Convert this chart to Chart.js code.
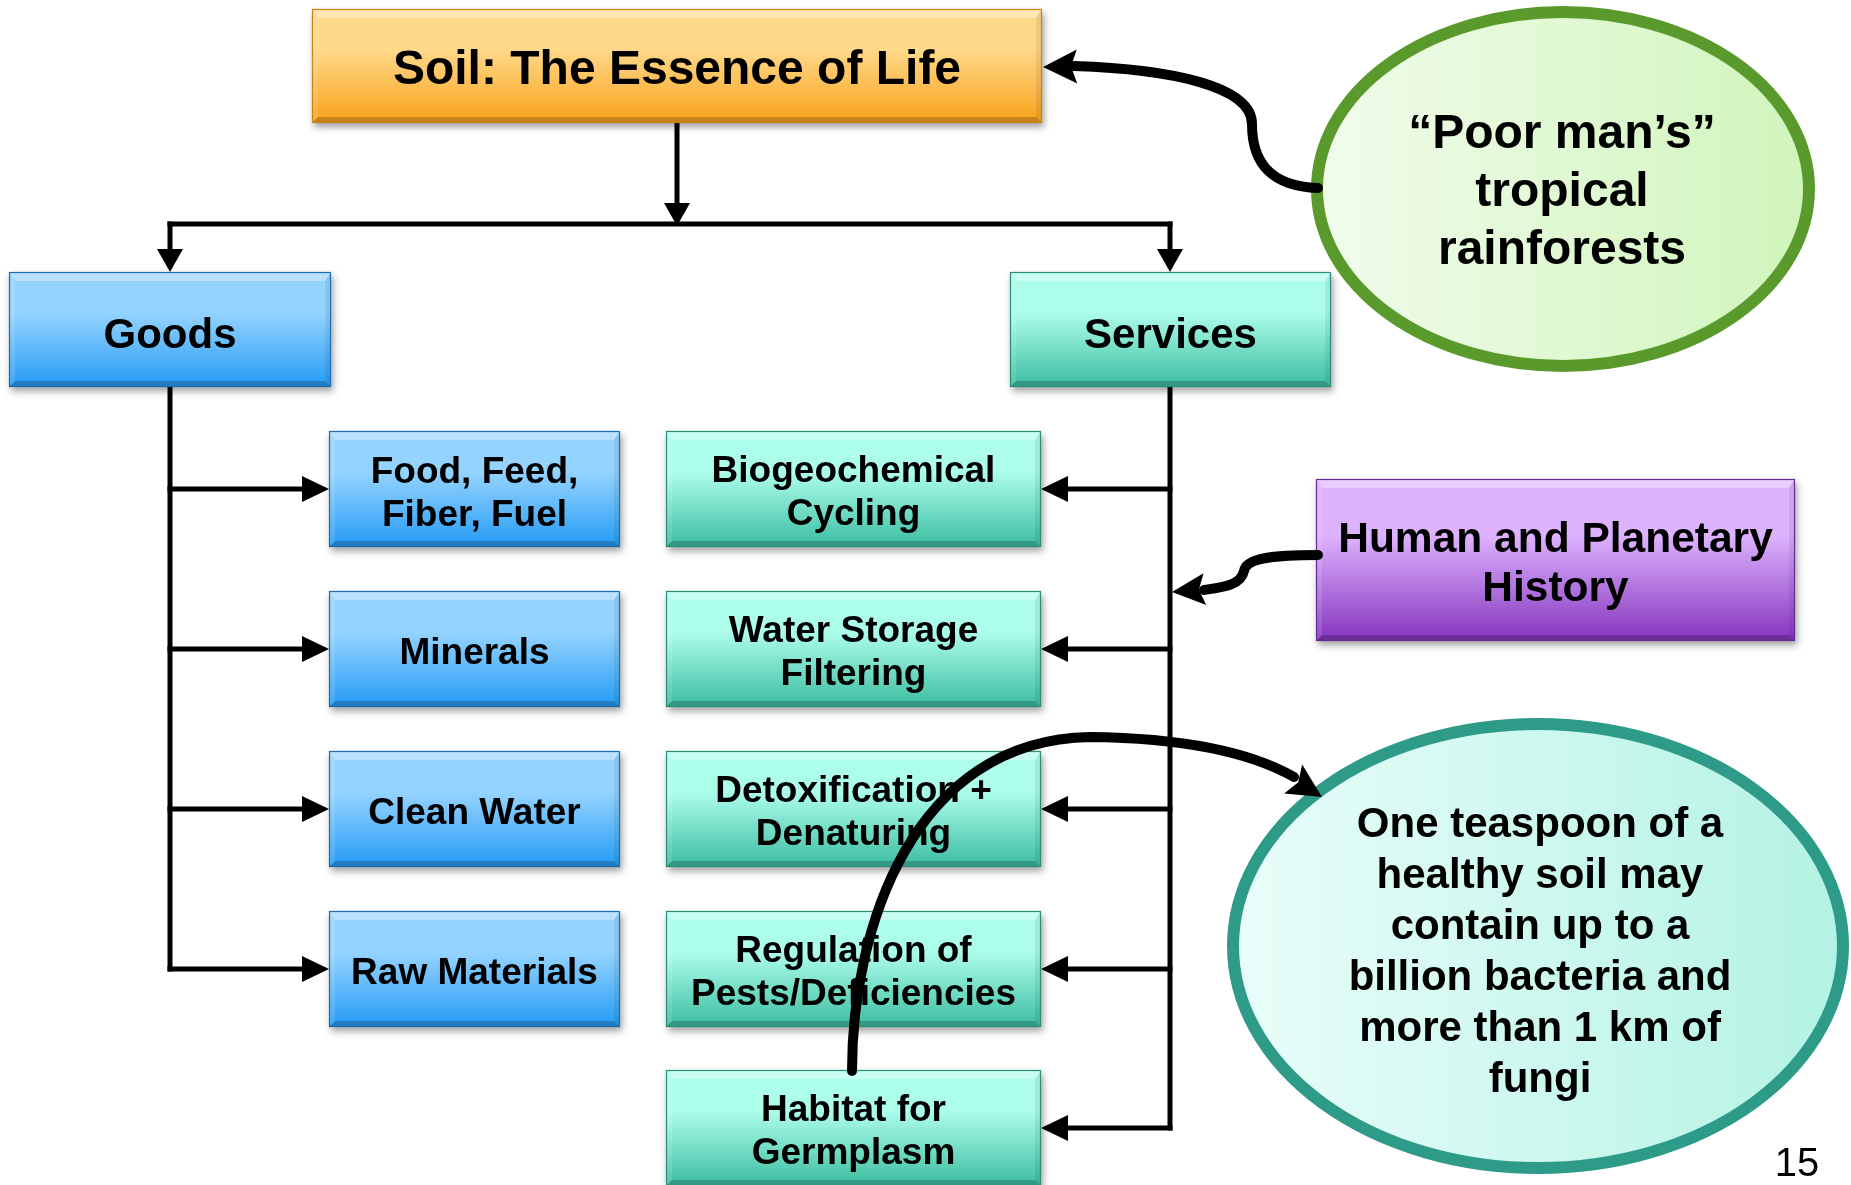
<!DOCTYPE html>
<html>
<head>
<meta charset="utf-8">
<script src="https://cdn.jsdelivr.net/npm/chart.js@4.4.1/dist/chart.umd.min.js"></script>
<style>
html,body{margin:0;padding:0;background:#ffffff;overflow:hidden;}
canvas{display:block;}
</style>
</head>
<body>
<canvas id="c" width="1851" height="1185"></canvas>
<script>
// ---------- text content ----------
const titleText = ["Soil: The Essence of Life"];
const branchText = ["Goods", "Services"];
const goodsText = [["Food, Feed,", "Fiber, Fuel"], ["Minerals"], ["Clean Water"], ["Raw Materials"]];
const servicesText = [["Biogeochemical", "Cycling"], ["Water Storage", "Filtering"], ["Detoxification +", "Denaturing"], ["Regulation of", "Pests/Deficiencies"], ["Habitat for", "Germplasm"]];
const historyText = ["Human and Planetary", "History"];
const rainforestText = ["\u201CPoor man\u2019s\u201D", "tropical", "rainforests"];
const teaspoonText = ["One teaspoon of a", "healthy soil may", "contain up to a", "billion bacteria and", "more than 1 km of", "fungi"];
const pageNumber = "15";

// ---------- layout (in scale units) ----------
const W = 1851, H = 1185;
const LAY = {
  title: {x0: 312, x1: 1042, y0: 9, y1: 123},
  goods: {x0: 9, x1: 331, y0: 272, y1: 387},
  services: {x0: 1010, x1: 1331, y0: 272, y1: 387},
  goodsCol: {x0: 329, x1: 620},
  servCol: {x0: 666, x1: 1041},
  rowTop: [431, 591, 751, 911, 1070],
  rowH: 116,
  hist: {x0: 1316, x1: 1795, y0: 479, y1: 641},
  busY: 224, goodsX: 170, servX: 1170, titleX: 677,
  green: {cx: 1563, cy: 189, rx: 246, ry: 177},
  teal: {cx: 1538, cy: 946, rx: 305, ry: 222}
};
const PAL = {
  orange: {top: "#ffd98a", bot: "#f8a119", border: "#c98418"},
  blue: {top: "#95d3ff", bot: "#259bf4", border: "#1a6db3"},
  teal: {top: "#adfdeb", bot: "#3cbda1", border: "#2a8f79"},
  purple: {top: "#ddb2ff", bot: "#8534bd", border: "#6a2a96"}
};

const rowC = i => LAY.rowTop[i] + LAY.rowH / 2;

// ---------- connector line datasets ----------
function seg(a, b) {
  return {data: [a, b], showLine: true, borderColor: "#000", borderWidth: 5,
          pointRadius: 0, borderCapStyle: "square", fill: false};
}
const datasets = [];
datasets.push(seg({x: LAY.titleX, y: LAY.title.y1}, {x: LAY.titleX, y: 205}));
datasets.push(seg({x: LAY.goodsX, y: LAY.busY}, {x: LAY.servX, y: LAY.busY}));
datasets.push(seg({x: LAY.goodsX, y: LAY.busY}, {x: LAY.goodsX, y: 252}));
datasets.push(seg({x: LAY.servX, y: LAY.busY}, {x: LAY.servX, y: 252}));
datasets.push(seg({x: LAY.goodsX, y: LAY.goods.y1}, {x: LAY.goodsX, y: rowC(3)}));
datasets.push(seg({x: LAY.servX, y: LAY.services.y1}, {x: LAY.servX, y: rowC(4)}));
goodsText.forEach((t, i) => datasets.push(seg({x: LAY.goodsX, y: rowC(i)}, {x: LAY.goodsCol.x0 - 26, y: rowC(i)})));
servicesText.forEach((t, i) => datasets.push(seg({x: LAY.servX, y: rowC(i)}, {x: LAY.servCol.x1 + 26, y: rowC(i)})));

// ---------- drawing plugin ----------
const diagram = {
  id: "diagram",
  afterDatasetsDraw(chart) {
    const ctx = chart.ctx;
    const xs = chart.scales.x, ys = chart.scales.y;
    const X = v => xs.getPixelForValue(v), Y = v => ys.getPixelForValue(v);

    function arrowHead(fx, fy, tx, ty, len, hw, notch) {
      const dx = tx - fx, dy = ty - fy, d = Math.hypot(dx, dy);
      const ux = dx / d, uy = dy / d, px = -uy, py = ux;
      const bx = X(tx) - ux * len, by = Y(ty) - uy * len;
      ctx.beginPath();
      ctx.moveTo(X(tx), Y(ty));
      ctx.lineTo(bx + px * hw, by + py * hw);
      ctx.lineTo(bx + ux * (notch || 0), by + uy * (notch || 0));
      ctx.lineTo(bx - px * hw, by - py * hw);
      ctx.closePath();
      ctx.fillStyle = "#000";
      ctx.fill();
    }

    function drawLines(lines, cx, cy, size, lh, weight) {
      ctx.save();
      ctx.fillStyle = "#000";
      ctx.textAlign = "center";
      ctx.textBaseline = "middle";
      ctx.font = (weight || "bold") + " " + size + "px 'Liberation Sans', Arial, sans-serif";
      const n = lines.length;
      lines.forEach((s, i) => {
        ctx.fillText(s, X(cx), Y(cy + 3 + (i - (n - 1) / 2) * lh));
      });
      ctx.restore();
    }

    function drawBox(b, pal) {
      const x0 = X(b.x0), x1 = X(b.x1), y0 = Y(b.y0), y1 = Y(b.y1);
      const w = x1 - x0, h = y1 - y0;
      ctx.save();
      ctx.shadowColor = "rgba(0,0,0,0.38)";
      ctx.shadowBlur = 7;
      ctx.shadowOffsetX = 2;
      ctx.shadowOffsetY = 4;
      ctx.fillStyle = pal.bot;
      ctx.fillRect(x0, y0, w, h);
      ctx.restore();
      const g = ctx.createLinearGradient(0, y0, 0, y1);
      g.addColorStop(0, pal.top);
      g.addColorStop(0.35, pal.top);
      g.addColorStop(1, pal.bot);
      ctx.fillStyle = g;
      ctx.fillRect(x0, y0, w, h);
      const bt = 9, bs = 6;
      const poly = (pts, col) => {
        ctx.beginPath();
        ctx.moveTo(pts[0][0], pts[0][1]);
        for (let k = 1; k < pts.length; k++) ctx.lineTo(pts[k][0], pts[k][1]);
        ctx.closePath();
        ctx.fillStyle = col;
        ctx.fill();
      };
      poly([[x0, y0], [x1, y0], [x1 - bs, y0 + bt], [x0 + bs, y0 + bt]], "rgba(255,255,255,0.35)");
      poly([[x0, y0], [x0 + bs, y0 + bt], [x0 + bs, y1 - bs], [x0, y1]], "rgba(255,255,255,0.12)");
      poly([[x1, y0], [x1 - bs, y0 + bt], [x1 - bs, y1 - bs], [x1, y1]], "rgba(0,0,0,0.07)");
      poly([[x0, y1], [x0 + bs, y1 - bs], [x1 - bs, y1 - bs], [x1, y1]], "rgba(0,0,0,0.2)");
      ctx.strokeStyle = pal.border;
      ctx.lineWidth = 1.2;
      ctx.strokeRect(x0 + 0.5, y0 + 0.5, w - 1, h - 1);
    }

    function drawEllipse(e, c0, c1, stroke) {
      const g = ctx.createLinearGradient(X(e.cx - e.rx), 0, X(e.cx + e.rx), 0);
      g.addColorStop(0, c0);
      g.addColorStop(1, c1);
      ctx.beginPath();
      ctx.ellipse(X(e.cx), Y(e.cy), e.rx, e.ry, 0, 0, Math.PI * 2);
      ctx.fillStyle = g;
      ctx.fill();
      ctx.lineWidth = 12;
      ctx.strokeStyle = stroke;
      ctx.stroke();
    }

    // straight connector arrowheads
    arrowHead(LAY.titleX, 0, LAY.titleX, LAY.busY + 2, 23, 13);
    arrowHead(LAY.goodsX, 0, LAY.goodsX, LAY.goods.y0, 23, 13);
    arrowHead(LAY.servX, 0, LAY.servX, LAY.services.y0, 23, 13);
    goodsText.forEach((t, i) => arrowHead(0, rowC(i), LAY.goodsCol.x0, rowC(i), 27, 13));
    servicesText.forEach((t, i) => arrowHead(W, rowC(i), LAY.servCol.x1, rowC(i), 27, 13));

    // boxes
    drawBox(LAY.title, PAL.orange);
    drawLines(titleText, (LAY.title.x0 + LAY.title.x1) / 2, 68, 48, 50);
    drawBox(LAY.goods, PAL.blue);
    drawLines([branchText[0]], (LAY.goods.x0 + LAY.goods.x1) / 2, 333, 42, 50);
    drawBox(LAY.services, PAL.teal);
    drawLines([branchText[1]], (LAY.services.x0 + LAY.services.x1) / 2, 333, 42, 50);
    goodsText.forEach((t, i) => {
      const b = {x0: LAY.goodsCol.x0, x1: LAY.goodsCol.x1, y0: LAY.rowTop[i], y1: LAY.rowTop[i] + LAY.rowH};
      drawBox(b, PAL.blue);
      drawLines(t, (b.x0 + b.x1) / 2, rowC(i) + 2, 37, 43);
    });
    servicesText.forEach((t, i) => {
      const b = {x0: LAY.servCol.x0, x1: LAY.servCol.x1, y0: LAY.rowTop[i], y1: LAY.rowTop[i] + LAY.rowH};
      drawBox(b, PAL.teal);
      drawLines(t, (b.x0 + b.x1) / 2, rowC(i) + 1, 37, 43);
    });
    drawBox(LAY.hist, PAL.purple);
    drawLines(historyText, (LAY.hist.x0 + LAY.hist.x1) / 2, 562, 42.5, 49);

    // ellipses
    drawEllipse(LAY.green, "#f1fcec", "#d0f5bb", "#5a9a2d");
    drawLines(rainforestText, LAY.green.cx - 1, 190, 48, 58);
    drawEllipse(LAY.teal, "#e9fdf9", "#b3f3e3", "#2e9b88");
    drawLines(teaspoonText, LAY.teal.cx + 2, 950, 42, 51);

    // thick curved arrows
    ctx.save();
    ctx.strokeStyle = "#000";
    ctx.lineWidth = 10;
    ctx.lineCap = "round";
    // rainforest -> title
    ctx.beginPath();
    ctx.moveTo(X(1318), Y(188));
    ctx.bezierCurveTo(X(1268), Y(186), X(1252), Y(160), X(1252), Y(124));
    ctx.bezierCurveTo(X(1252), Y(86), X(1170), Y(69), X(1074), Y(66));
    ctx.stroke();
    // history -> services trunk
    ctx.beginPath();
    ctx.moveTo(X(1318), Y(555));
    ctx.bezierCurveTo(X(1272), Y(555), X(1246), Y(558), X(1244), Y(571));
    ctx.bezierCurveTo(X(1241), Y(585), X(1224), Y(587), X(1204), Y(590));
    ctx.stroke();
    // habitat -> teaspoon
    ctx.beginPath();
    ctx.moveTo(X(852), Y(1071));
    ctx.bezierCurveTo(X(852), Y(930), X(912), Y(740), X(1090), Y(737));
    ctx.bezierCurveTo(X(1180), Y(738), X(1250), Y(752), X(1294), Y(777));
    ctx.stroke();
    ctx.restore();
    arrowHead(1252, 64, 1043, 67, 34, 17, 6);
    arrowHead(1230, 587, 1172, 592, 33, 16, 6);
    arrowHead(1250, 752, 1322, 797, 34, 17, 6);

    // page number
    drawLines([pageNumber], 1797, 1162, 40, 40, "normal");
  }
};

new Chart(document.getElementById("c"), {
  type: "scatter",
  data: {datasets: datasets},
  options: {
    responsive: false,
    animation: false,
    events: [],
    layout: {padding: 0},
    plugins: {legend: {display: false}, tooltip: {enabled: false}},
    scales: {
      x: {type: "linear", min: 0, max: W, display: false},
      y: {type: "linear", min: 0, max: H, reverse: true, display: false}
    }
  },
  plugins: [diagram]
});
</script>
</body>
</html>
